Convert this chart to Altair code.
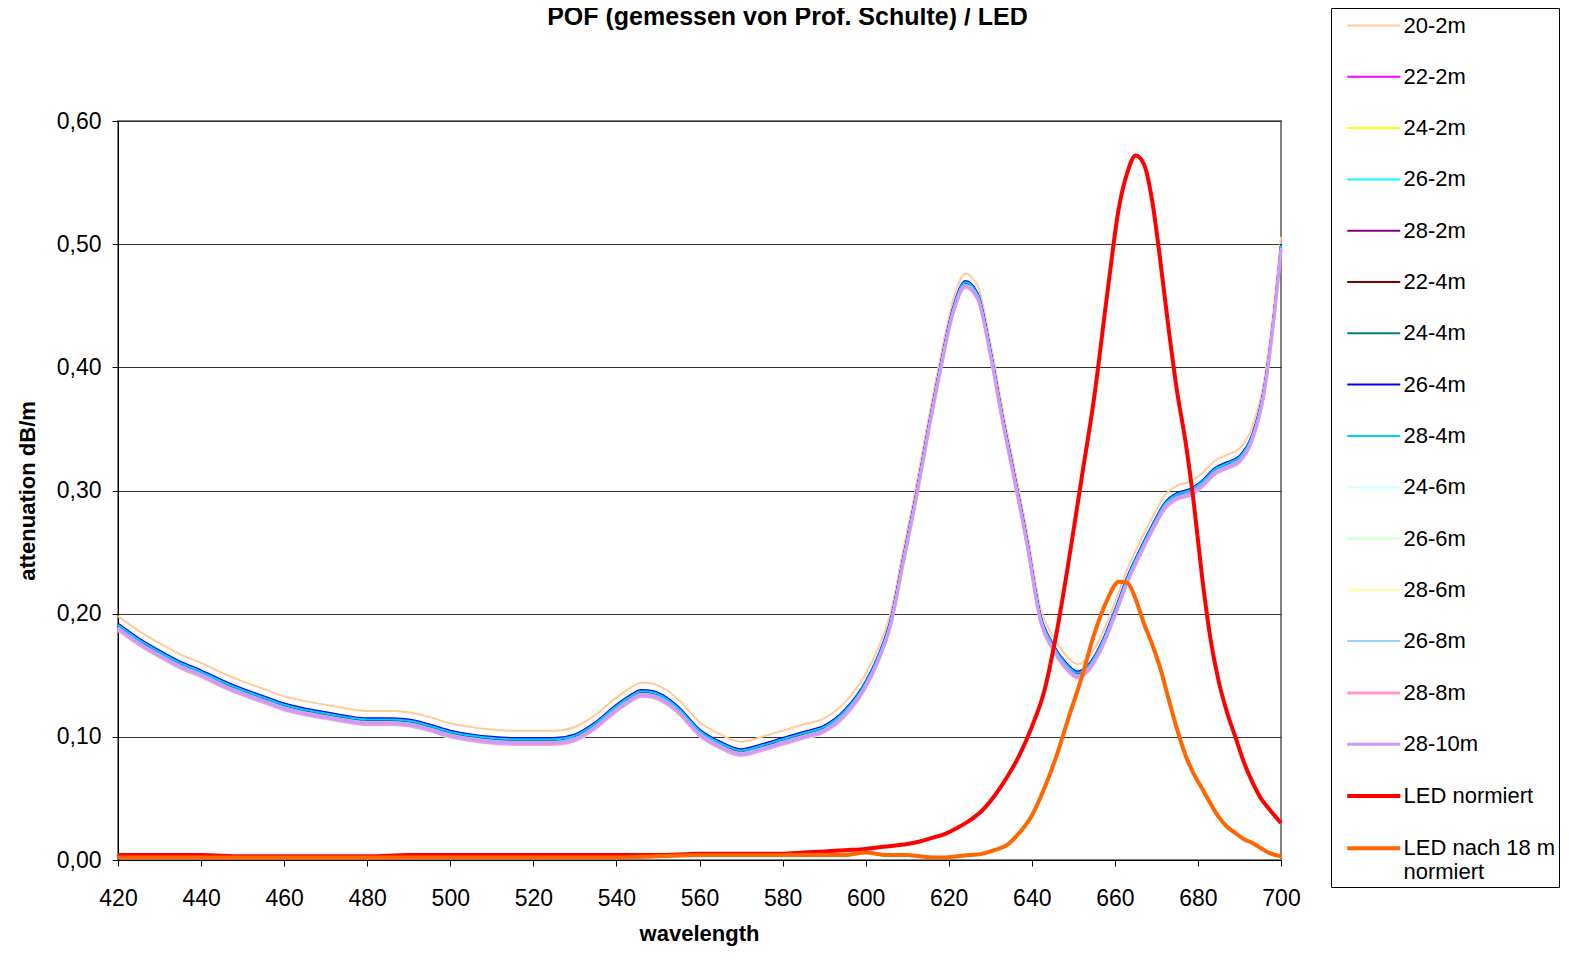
import altair as alt
import pandas as pd

# ---------------- data ----------------
wavelengths = [420, 425, 430, 435, 440, 445, 450, 455, 460, 465, 470, 475, 480, 485, 490,
               495, 500, 505, 510, 515, 520, 525, 530, 535, 540, 543, 546, 549, 552, 555,
               560, 565, 570, 575, 580, 585, 590, 595, 600, 603, 606, 609, 612, 615, 618,
               621, 624, 627, 630, 633, 636, 639, 642, 645, 648, 651, 654, 657, 660, 663,
               666, 669, 672, 675, 678, 681, 684, 687, 690, 693, 696, 698, 700]

# reference curve 26-4m (dB/m)
att_26_4 = [0.192, 0.180, 0.170, 0.161, 0.154, 0.146, 0.139, 0.133, 0.127, 0.123, 0.120,
            0.117, 0.115, 0.115, 0.114, 0.110, 0.105, 0.102, 0.100, 0.099, 0.099, 0.099,
            0.102, 0.112, 0.126, 0.133, 0.138, 0.137, 0.132, 0.124, 0.106, 0.096, 0.090,
            0.094, 0.099, 0.104, 0.109, 0.122, 0.145, 0.166, 0.195, 0.245, 0.295, 0.350,
            0.402, 0.448, 0.470, 0.460, 0.415, 0.360, 0.310, 0.258, 0.200, 0.176, 0.161,
            0.153, 0.160, 0.178, 0.203, 0.230, 0.252, 0.272, 0.290, 0.298, 0.301, 0.308,
            0.318, 0.323, 0.328, 0.345, 0.385, 0.435, 0.500]

series_names = ["20-2m", "22-2m", "24-2m", "26-2m", "28-2m", "22-4m", "24-4m", "26-4m",
                "28-4m", "24-6m", "26-6m", "28-6m", "26-8m", "28-8m", "28-10m"]
series_offsets = [0.006, -0.002, -0.003, -0.001, -0.002, -0.002, -0.003, 0.000,
                  -0.001, -0.006, -0.004, -0.004, -0.003, -0.005, -0.004]
series_colors = ["#FFCC99", "#FF00FF", "#FFFF00", "#00FFFF", "#800080", "#800000",
                 "#008080", "#0000FF", "#00CCFF", "#CCFFFF", "#CCFFCC", "#FFFF99",
                 "#99CCFF", "#FF99CC", "#CC99FF"]
series_widths = [2, 2, 2, 2, 2, 2, 2, 2, 2, 2, 2, 2, 2, 3, 3]

led_wavelengths = [420, 430, 440, 450, 460, 470, 480, 490, 500, 510, 520, 530, 540, 550,
                   560, 570, 580, 585, 590, 595, 600, 605, 610, 613, 616, 619, 622, 625,
                   628, 631, 634, 637, 640, 643, 646, 649, 652, 655, 658, 661, 663, 665,
                   667, 669, 671, 673, 675, 677, 679, 681, 683, 685, 687, 689, 691, 693,
                   695, 697, 700]
led_normiert = [0.004, 0.004, 0.004, 0.003, 0.003, 0.003, 0.003, 0.004, 0.004, 0.004,
                0.004, 0.004, 0.004, 0.004, 0.005, 0.005, 0.005, 0.006, 0.007, 0.008,
                0.009, 0.011, 0.013, 0.015, 0.018, 0.021, 0.026, 0.032, 0.040, 0.052,
                0.067, 0.085, 0.108, 0.137, 0.185, 0.245, 0.310, 0.375, 0.455, 0.530,
                0.558, 0.572, 0.565, 0.535, 0.485, 0.430, 0.380, 0.340, 0.290, 0.230,
                0.180, 0.145, 0.120, 0.100, 0.080, 0.064, 0.051, 0.042, 0.030]
led_18m = [0.002, 0.002, 0.002, 0.002, 0.002, 0.002, 0.002, 0.002, 0.002, 0.002,
           0.002, 0.002, 0.002, 0.003, 0.004, 0.004, 0.004, 0.004, 0.004, 0.004,
           0.006, 0.004, 0.004, 0.003, 0.002, 0.002, 0.003, 0.004, 0.005, 0.008,
           0.012, 0.022, 0.036, 0.058, 0.085, 0.117, 0.148, 0.183, 0.210, 0.226,
           0.225, 0.212, 0.192, 0.175, 0.155, 0.130, 0.106, 0.085, 0.070, 0.058,
           0.046, 0.035, 0.027, 0.022, 0.017, 0.014, 0.010, 0.006, 0.003]

led_names = ["LED normiert", "LED nach 18 m normiert"]
led_colors = ["#FF0000", "#FF6600"]
led_widths = [4, 4]

y_ticks = [0.0, 0.1, 0.2, 0.3, 0.4, 0.5, 0.6]
x_ticks = [420, 440, 460, 480, 500, 520, 540, 560, 580, 600, 620, 640, 660, 680, 700]

chart_title = "POF (gemessen von Prof. Schulte) / LED"

# ---------------- table ----------------
rows = []
for name, off in zip(series_names, series_offsets):
    for w, v in zip(wavelengths, att_26_4):
        rows.append({"series": name, "wl": w, "val": round(v + off, 4)})
for name, vals in zip(led_names, [led_normiert, led_18m]):
    for w, v in zip(led_wavelengths, vals):
        rows.append({"series": name, "wl": w, "val": v})
df = pd.DataFrame(rows)

all_names = series_names + led_names
all_colors = series_colors + led_colors
all_widths = series_widths + led_widths

FONT = "Liberation Sans"
LABEL_EXPR = "datum.label == 'LED nach 18 m normiert' ? ['LED nach 18 m', 'normiert'] : datum.label"
x_scale = alt.Scale(domain=[420, 700], nice=False, zero=False)

lines = alt.Chart(df).mark_line(interpolate="monotone").encode(
    x=alt.X("wl:Q", scale=x_scale,
            axis=alt.Axis(values=x_ticks, title="wavelength", grid=False,
                          labelFontSize=23, labelFont=FONT, labelColor="black",
                          labelPadding=21, tickSize=6, tickColor="black",
                          domainColor="black", labelFlush=False,
                          titleFontSize=22, titleFont=FONT, titleFontWeight="bold",
                          titleColor="black", titleX=581, titleY=80,
                          titleBaseline="alphabetic", titleAlign="center")),
    y=alt.Y("val:Q",
            scale=alt.Scale(domain=[0, 0.6], nice=False),
            axis=alt.Axis(values=y_ticks, title="attenuation dB/m", grid=True,
                          gridColor="#333333", gridWidth=1,
                          labelExpr="replace(format(datum.value, '.2f'), '.', ',')",
                          labelFontSize=23, labelFont=FONT, labelColor="black",
                          labelPadding=11, tickSize=6, tickColor="black",
                          domainColor="black",
                          titleFontSize=22, titleFont=FONT, titleFontWeight="bold",
                          titleColor="black", titleX=-91, titleY=369.5,
                          titleAngle=270, titleBaseline="middle", titleAlign="center")),
    color=alt.Color("series:N", sort=all_names,
                    scale=alt.Scale(domain=all_names, range=all_colors),
                    legend=alt.Legend(title=None, labelExpr=LABEL_EXPR)),
    strokeWidth=alt.StrokeWidth("series:N", sort=all_names,
                                scale=alt.Scale(type="ordinal", domain=all_names, range=all_widths),
                                legend=alt.Legend(title=None, labelExpr=LABEL_EXPR)),
)

# top axis used only to carry the chart title
title_layer = alt.Chart(pd.DataFrame({"wl": [420]})).mark_point(opacity=0).encode(
    x=alt.X("wl:Q", scale=x_scale,
            axis=alt.Axis(orient="top", title=chart_title, labels=False, ticks=False,
                          domain=False, grid=False, titleLimit=1500,
                          titleFontSize=25, titleFont=FONT, titleFontWeight="bold",
                          titleColor="black", titleX=669, titleY=-105,
                          titleBaseline="middle", titleAlign="center")),
)

chart = alt.layer(lines, title_layer).resolve_axis(x="independent").properties(
    width=1163,
    height=739,
    autosize=alt.AutoSizeParams(type="none"),
    padding={"left": 110, "top": 113, "right": 280, "bottom": 86},
).configure_view(
    stroke="#808080", strokeWidth=2
).configure_legend(
    orient="none", legendX=1213, legendY=-113,
    strokeColor="black", padding=3, symbolType="M-2,0H2", symbolSize=702.25,
    labelFont=FONT, labelFontSize=22, labelColor="black", labelOffset=14.25,
    rowPadding=25.3, symbolOffset=24.25,
)

chart.save("out.html", embed_options={"renderer": "svg", "actions": False})
